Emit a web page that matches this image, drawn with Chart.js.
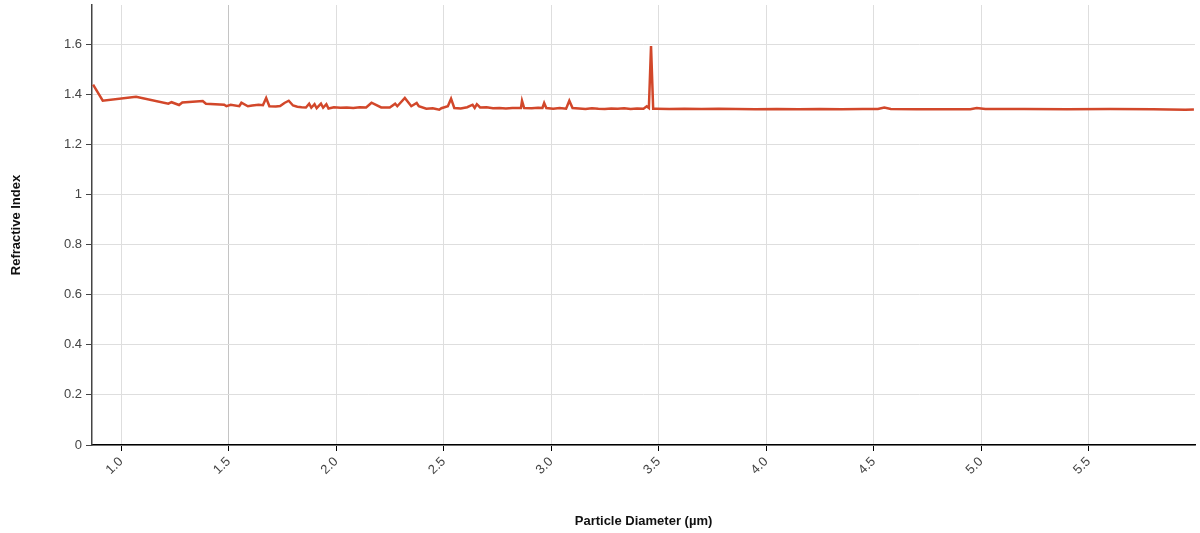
<!DOCTYPE html>
<html>
<head>
<meta charset="utf-8">
<script src="https://cdn.jsdelivr.net/npm/chart.js"></script>
<style>
	body { margin: 0; background: #fff; }
	#wrap { width: 1200px; height: 533px; position: relative; }
</style>
</head>
<body>
<div id="wrap"><canvas id="ri_chart"></canvas></div>
<script>
// particle diameter (µm)
const diameter = [
	0.87, 0.915, 1.07, 1.22, 1.235, 1.27, 1.285, 1.38, 1.395, 1.48,
	1.49, 1.51, 1.55, 1.56, 1.59, 1.61, 1.64, 1.66, 1.675, 1.69,
	1.72, 1.74, 1.76, 1.78, 1.80, 1.82, 1.84, 1.86, 1.875, 1.885,
	1.90, 1.91, 1.93, 1.94, 1.955, 1.965, 1.99, 2.02, 2.05, 2.08,
	2.11, 2.14, 2.165, 2.21, 2.25, 2.275, 2.285, 2.32, 2.35, 2.375,
	2.385, 2.42, 2.45, 2.48, 2.49, 2.52, 2.535, 2.55, 2.58, 2.61,
	2.635, 2.645, 2.655, 2.67, 2.70, 2.73, 2.76, 2.79, 2.82, 2.86,
	2.865, 2.875, 2.91, 2.94, 2.96, 2.968, 2.978, 3.01, 3.04, 3.07,
	3.085, 3.10, 3.13, 3.16, 3.19, 3.22, 3.25, 3.28, 3.31, 3.34,
	3.37, 3.40, 3.43, 3.445, 3.455, 3.465, 3.475, 3.49, 3.55, 3.62,
	3.70, 3.78, 3.86, 3.95, 4.05, 4.15, 4.25, 4.35, 4.45, 4.52,
	4.55, 4.58, 4.70, 4.85, 4.95, 4.98, 5.02, 5.2, 5.4, 5.6,
	5.8, 5.95, 5.99
];
// refractive index
const refIndex = [
	1.438, 1.374, 1.390, 1.362, 1.368, 1.357, 1.367, 1.373, 1.362, 1.358,
	1.352, 1.358, 1.352, 1.366, 1.352, 1.355, 1.358, 1.356, 1.385, 1.352,
	1.351, 1.353, 1.365, 1.374, 1.355, 1.350, 1.348, 1.347, 1.362, 1.346,
	1.360, 1.344, 1.362, 1.346, 1.360, 1.343, 1.348, 1.346, 1.347, 1.345,
	1.348, 1.347, 1.366, 1.347, 1.347, 1.362, 1.352, 1.385, 1.352, 1.365,
	1.352, 1.342, 1.344, 1.338, 1.344, 1.352, 1.382, 1.345, 1.343, 1.348,
	1.358, 1.345, 1.360, 1.347, 1.348, 1.344, 1.345, 1.343, 1.345, 1.345,
	1.374, 1.345, 1.344, 1.346, 1.345, 1.365, 1.345, 1.342, 1.345, 1.342,
	1.374, 1.345, 1.343, 1.341, 1.344, 1.342, 1.341, 1.343, 1.342, 1.344,
	1.341, 1.343, 1.342, 1.352, 1.345, 1.592, 1.342, 1.342, 1.341, 1.342,
	1.341, 1.342, 1.341, 1.340, 1.341, 1.340, 1.341, 1.340, 1.341, 1.341,
	1.347, 1.341, 1.340, 1.340, 1.340, 1.345, 1.341, 1.341, 1.340, 1.341,
	1.340, 1.338, 1.339
];
const xTicks = [1.0, 1.5, 2.0, 2.5, 3.0, 3.5, 4.0, 4.5, 5.0, 5.5];
const yTicks = [0, 0.2, 0.4, 0.6, 0.8, 1, 1.2, 1.4, 1.6];

const points = diameter.map((d, i) => ({ x: d, y: refIndex[i] }));

new Chart(document.getElementById('ri_chart').getContext('2d'), {
	type: 'line',
	data: {
		datasets: [{
			label: 'Refractive Index',
			data: points,
			borderColor: '#d2472a',
			borderWidth: 2.5,
			pointRadius: 0,
			tension: 0,
			fill: false
		}]
	},
	options: {
		responsive: true,
		maintainAspectRatio: false,
		animation: false,
		layout: { padding: { top: 5, right: 5, left: 0, bottom: 0 } },
		plugins: {
			legend: { display: false },
			tooltip: { enabled: false }
		},
		scales: {
			x: {
				type: 'linear',
				min: 0.865,
				max: 5.995,
				afterBuildTicks: function(scale) {
					scale.ticks = xTicks.map(v => ({ value: v }));
				},
				afterFit: function(scale) {
					scale.height = 88;
					scale.paddingLeft = 0;
					scale.paddingRight = 0;
				},
				border: { display: true, color: '#000', width: 1.5 },
				grid: {
					color: ctx => (ctx.tick && ctx.tick.value === 1.5) ? '#c4c4c4' : '#dedede',
					tickColor: '#000',
					tickLength: 6
				},
				ticks: {
					minRotation: 45,
					maxRotation: 45,
					color: '#444',
					font: { family: 'Arial, "Liberation Sans"', size: 13 },
					callback: v => Number(v).toFixed(1)
				},
				title: {
					display: true,
					text: 'Particle Diameter (µm)',
					color: '#111',
					font: { family: 'Arial, "Liberation Sans"', size: 13, weight: 'bold' },
					padding: { top: 22 }
				}
			},
			y: {
				min: 0,
				max: 1.756,
				afterBuildTicks: function(scale) {
					scale.ticks = yTicks.map(v => ({ value: v }));
				},
				afterFit: function(scale) {
					scale.width = 92;
					scale.paddingTop = 0;
					scale.paddingBottom = 0;
				},
				border: { display: true, color: '#444', width: 1.5 },
				grid: {
					color: '#dedede',
					tickColor: '#444',
					tickLength: 6
				},
				ticks: {
					color: '#444',
					font: { family: 'Arial, "Liberation Sans"', size: 13 },
					padding: 4,
					callback: v => String(v)
				},
				title: {
					display: true,
					text: 'Refractive Index',
					color: '#111',
					font: { family: 'Arial, "Liberation Sans"', size: 13, weight: 'bold' },
					padding: { top: 9, bottom: 20 }
				}
			}
		}
	}
});
</script>
</body>
</html>
